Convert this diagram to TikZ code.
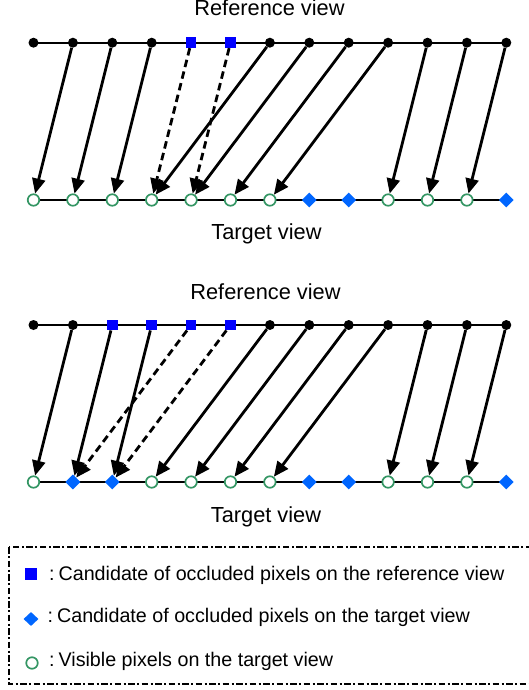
\documentclass[tikz,border=0pt]{standalone}
\usepackage{fontspec}
\setmainfont{Liberation Sans}
\usetikzlibrary{arrows.meta,shapes.geometric,backgrounds}
\definecolor{refblue}{RGB}{0,0,255}
\definecolor{tgtblue}{RGB}{0,102,255}
\definecolor{visgreen}{RGB}{52,150,100}
\tikzset{
  dotn/.style={circle,fill=black,inner sep=0pt,minimum size=10pt},
  sqn/.style={rectangle,fill=refblue,inner sep=0pt,minimum size=10.5pt},
  dian/.style={diamond,fill=tgtblue,inner sep=0pt,minimum width=15pt,minimum height=15pt},
  visn/.style={circle,draw=visgreen,fill=white,line width=1.7pt,inner sep=0pt,minimum size=11.5pt},
  arr/.style={-{Triangle[length=15pt,width=13pt]},line width=2.8pt},
  darr/.style={arr,dash pattern=on 7.5pt off 4.5pt},
  rowline/.style={line width=1.8pt},
  title/.style={anchor=base,font=\fontsize{21.8}{24}\selectfont},
  legtext/.style={anchor=base west,font=\fontsize{19.7}{22}\selectfont,inner sep=0pt},
  legbox/.style={line width=2pt,dash pattern=on 6.5pt off 2.5pt on 2pt off 2.5pt}
}
\begin{document}
\begin{tikzpicture}[x=1pt,y=-1pt]
\useasboundingbox (0,0) rectangle (529,690);
% top diagram
\foreach \t [count=\i from 0] in {dotn,dotn,dotn,dotn,sqn,sqn,dotn,dotn,dotn,dotn,dotn,dotn,dotn}
  \node[\t] (ar\i) at (33.5+39.4*\i,42.7) {};
\foreach \t [count=\i from 0] in {visn,visn,visn,visn,visn,visn,visn,dian,dian,visn,visn,visn,dian}
  \node[\t] (at\i) at (33.5+39.4*\i,200) {};
% bottom diagram
\foreach \t [count=\i from 0] in {dotn,dotn,sqn,sqn,sqn,sqn,dotn,dotn,dotn,dotn,dotn,dotn,dotn}
  \node[\t] (br\i) at (33.5+39.4*\i,325) {};
\foreach \t [count=\i from 0] in {visn,dian,dian,visn,visn,visn,visn,dian,dian,visn,visn,visn,dian}
  \node[\t] (bt\i) at (33.5+39.4*\i,482) {};
\begin{scope}[on background layer]
  \draw[rowline] (ar0.center) -- (ar12.center);
  \draw[rowline] (at0.center) -- (at12.center);
  \draw[rowline] (br0.center) -- (br12.center);
  \draw[rowline] (bt0.center) -- (bt12.center);
\end{scope}
% top arrows
\foreach \a/\b in {1/0,2/1,3/2,6/3,7/4,8/5,9/6,10/9,11/10,12/11}
  \draw[arr] (ar\a) -- (at\b);
\foreach \a/\b in {4/3,5/4}
  \draw[darr] (ar\a) -- (at\b);
% bottom arrows
\foreach \a/\b in {1/0,2/1,3/2,6/3,7/4,8/5,9/6,10/9,11/10,12/11}
  \draw[arr] (br\a) -- (bt\b);
\foreach \a/\b in {4/1,5/2}
  \draw[darr] (br\a) -- (bt\b);
% titles
\node[title] (t1) at (269.5,15.7) {Reference view};
\node[title] (t2) at (266.5,239) {Target view};
\node[title] (t3) at (265.5,299) {Reference view};
\node[title] (t4) at (266,522) {Target view};
% legend
\draw[legbox] (8.5,547) rectangle (545,684);
\node[sqn,minimum size=12.5pt] (l1) at (31,574) {};
\node[dian,minimum width=15pt,minimum height=14pt] (l2) at (31,619) {};
\node[visn] (l3) at (32,663) {};
\node[legtext] (lt1) at (49,580) {:\kern0.2em Candidate of occluded pixels on the reference view};
\node[legtext] (lt2) at (47.5,622) {:\kern0.2em Candidate of occluded pixels on the target view};
\node[legtext] (lt3) at (49,666) {:\kern0.2em Visible pixels on the target view};
\end{tikzpicture}
\end{document}
